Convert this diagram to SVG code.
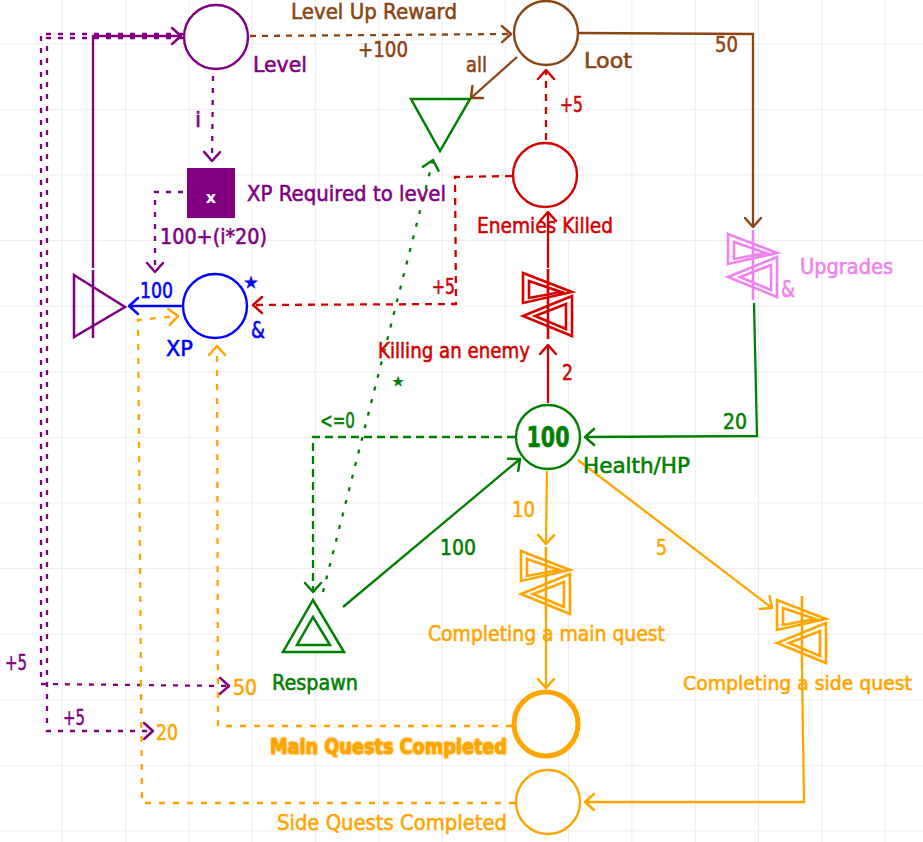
<svg xmlns="http://www.w3.org/2000/svg" width="923" height="842" viewBox="0 0 923 842">
<style>
.t{font-family:"DejaVu Sans","Liberation Sans",sans-serif;font-size:22px;stroke-width:0.6;}
.b{font-weight:bold;}
.ln{fill:none;stroke-width:2.3;}
.pu{stroke:#800080;} .br{stroke:#8b4513;} .rd{stroke:#d40000;} .gr{stroke:#008000;} .or{stroke:#ffa500;} .bl{stroke:#0000ff;}
.fpu{fill:#800080;stroke:#800080;} .fbr{fill:#8b4513;stroke:#8b4513;} .frd{fill:#d40000;stroke:#d40000;} .fgr{fill:#008000;stroke:#008000;} .for{fill:#ffa500;stroke:#ffa500;} .fbl{fill:#0000ff;stroke:#0000ff;} .fvi{fill:#ee82ee;stroke:#ee82ee;}
.dotP{stroke-dasharray:5 7;} .dashB{stroke-dasharray:6 6;} .dashR{stroke-dasharray:7 6;} .dashG{stroke-dasharray:8 5;} .dotG{stroke-dasharray:4 9;} .dotO{stroke-dasharray:6 8;}
.pool{fill:#fff;stroke-width:2.4;}
</style>
<defs>
<pattern id="grid" patternUnits="userSpaceOnUse" x="-1.6" y="-22.3" width="63.3" height="65.6">
<path d="M0,0 V65.6 M0,0 H63.3" fill="none" stroke="#ececec" stroke-width="2"/>
</pattern>
<filter id="glow" x="-10%" y="-40%" width="120%" height="180%"><feGaussianBlur stdDeviation="1.2"/></filter>
<marker id="aP" markerUnits="userSpaceOnUse" markerWidth="24" markerHeight="24" viewBox="-12 -12 24 24" refX="0" refY="0" orient="auto"><path d="M-9,-8 L0,0 L-9,8" fill="none" stroke="#800080" stroke-width="2.5" stroke-linecap="round" stroke-linejoin="round"/></marker>
<marker id="aB" markerUnits="userSpaceOnUse" markerWidth="24" markerHeight="24" viewBox="-12 -12 24 24" refX="0" refY="0" orient="auto"><path d="M-9,-8 L0,0 L-9,8" fill="none" stroke="#8b4513" stroke-width="2.5" stroke-linecap="round" stroke-linejoin="round"/></marker>
<marker id="aR" markerUnits="userSpaceOnUse" markerWidth="24" markerHeight="24" viewBox="-12 -12 24 24" refX="0" refY="0" orient="auto"><path d="M-9,-8 L0,0 L-9,8" fill="none" stroke="#d40000" stroke-width="2.5" stroke-linecap="round" stroke-linejoin="round"/></marker>
<marker id="aG" markerUnits="userSpaceOnUse" markerWidth="24" markerHeight="24" viewBox="-12 -12 24 24" refX="0" refY="0" orient="auto"><path d="M-9,-8 L0,0 L-9,8" fill="none" stroke="#008000" stroke-width="2.5" stroke-linecap="round" stroke-linejoin="round"/></marker>
<marker id="aO" markerUnits="userSpaceOnUse" markerWidth="24" markerHeight="24" viewBox="-12 -12 24 24" refX="0" refY="0" orient="auto"><path d="M-9,-8 L0,0 L-9,8" fill="none" stroke="#ffa500" stroke-width="2.5" stroke-linecap="round" stroke-linejoin="round"/></marker>
<marker id="aL" markerUnits="userSpaceOnUse" markerWidth="24" markerHeight="24" viewBox="-12 -12 24 24" refX="0" refY="0" orient="auto"><path d="M-9,-8 L0,0 L-9,8" fill="none" stroke="#0000ff" stroke-width="2.5" stroke-linecap="round" stroke-linejoin="round"/></marker>
<g id="cv" fill="none" stroke-width="2.6">
<path d="M-25,-31 L24,-12 L-25,-1 Z M-19,-23 L13,-12 L-19,-6 Z"/>
<path d="M24,-8 L-25,12 L24,32 Z M18,0 L-13,12 L18,25 Z"/>
<path d="M0,-35 V35"/>
</g>
</defs>
<rect width="923" height="842" fill="#fff"/>
<rect width="923" height="842" fill="url(#grid)"/>

<g id="connectors">
<path class="ln br dashB" d="M250,36 L511,34" marker-end="url(#aB)"/>
<path class="ln br" d="M579,33 L753,34 L753,227" marker-end="url(#aB)"/>
<path class="ln br" d="M517,57 L471,98" marker-end="url(#aB)"/>
<path class="ln pu" d="M93,268 L93,36 L181,36" marker-end="url(#aP)"/>
<path class="ln pu dotP" d="M183,34 L41,34 L41,684 L229,686" marker-end="url(#aP)"/>
<path class="ln pu dotP" d="M183,38 L47,38 L47,731 L153,731" marker-end="url(#aP)"/>
<path class="ln pu dotP" d="M213,76 L212,161" marker-end="url(#aP)"/>
<path class="ln pu dotP" d="M183,192 L155,192 L155,272" marker-end="url(#aP)"/>
<path class="ln bl" d="M183,306 L129,306" marker-end="url(#aL)"/>
<path class="ln rd dashR" d="M546,140 L546,70" marker-end="url(#aR)"/>
<path class="ln rd dashR" d="M512,176 L455,177 L456,304 L253,305" marker-end="url(#aR)"/>
<path class="ln rd" d="M548,268 L548,212" marker-end="url(#aR)"/>
<path class="ln rd" d="M548,403 L548,345" marker-end="url(#aR)"/>
<path class="ln gr" d="M754,303 L757,436 L585,437" marker-end="url(#aG)"/>
<path class="ln gr dashG" d="M515,437 L313,437 L313,592" marker-end="url(#aG)"/>
<path class="ln gr dotG" d="M323,592 L433,160" marker-end="url(#aG)"/>
<path class="ln gr" d="M343,607 L520,459" marker-end="url(#aG)"/>
<path class="ln or" d="M547,471 L546,544" marker-end="url(#aO)"/>
<path class="ln or" d="M546,616 L546,688" marker-end="url(#aO)"/>
<path class="ln or" d="M578,460 L772,608" marker-end="url(#aO)"/>
<path class="ln or" d="M802,666 L804,802 L585,802" marker-end="url(#aO)"/>
<path class="ln or dotO" d="M512,726 L218,726 L217,346" marker-end="url(#aO)"/>
<path class="ln or dotO" d="M515,803 L142,803 L138,320 L178,316" marker-end="url(#aO)"/>
</g>

<g id="connector-labels">
<text class="t fbr" x="291" y="19" textLength="166" lengthAdjust="spacingAndGlyphs">Level Up Reward</text>
<text class="t fbr" x="358" y="57" textLength="50" lengthAdjust="spacingAndGlyphs">+100</text>
<text class="t fbr" x="466" y="72" textLength="21" lengthAdjust="spacingAndGlyphs">all</text>
<text class="t fbr" x="715" y="52" textLength="23" lengthAdjust="spacingAndGlyphs">50</text>
<text class="t frd" x="560" y="112" textLength="23" lengthAdjust="spacingAndGlyphs">+5</text>
<text class="t frd" x="432" y="294" textLength="23" lengthAdjust="spacingAndGlyphs">+5</text>
<text class="t frd" x="562" y="380" textLength="11" lengthAdjust="spacingAndGlyphs">2</text>
<text class="t fpu" x="195" y="127">i</text>
<text class="t fpu" x="160" y="244" textLength="107" lengthAdjust="spacingAndGlyphs">100+(i*20)</text>
<text class="t fbl" x="140" y="298" textLength="33" lengthAdjust="spacingAndGlyphs">100</text>
<text class="t fgr" x="320" y="428" textLength="35" lengthAdjust="spacingAndGlyphs">&lt;=0</text>
<text class="t fgr" x="398" y="386" text-anchor="middle" style="font-size:13px">★</text>
<text class="t fgr" x="723" y="429" textLength="24" lengthAdjust="spacingAndGlyphs">20</text>
<text class="t fgr" x="440" y="555" textLength="36" lengthAdjust="spacingAndGlyphs">100</text>
<text class="t for" x="512" y="517" textLength="23" lengthAdjust="spacingAndGlyphs">10</text>
<text class="t for" x="656" y="555" textLength="11" lengthAdjust="spacingAndGlyphs">5</text>
<text class="t for" x="233" y="695" textLength="24" lengthAdjust="spacingAndGlyphs">50</text>
<text class="t for" x="156" y="740" textLength="22" lengthAdjust="spacingAndGlyphs">20</text>
<text class="t fpu" x="5" y="670" textLength="22" lengthAdjust="spacingAndGlyphs">+5</text>
<text class="t fpu" x="63" y="725" textLength="22" lengthAdjust="spacingAndGlyphs">+5</text>
</g>

<g id="level">
<circle class="pool pu" cx="216" cy="37" r="32"/>
<text class="t fpu" x="253" y="72" textLength="54" lengthAdjust="spacingAndGlyphs">Level</text>
</g>
<g id="loot">
<circle class="pool br" cx="546" cy="33" r="32"/>
<text class="t fbr" x="584" y="68" textLength="48" lengthAdjust="spacingAndGlyphs">Loot</text>
</g>
<g id="drain">
<polygon points="411,99 470,99 440,151" fill="#fff" stroke="#008000" stroke-width="2.5"/>
</g>
<g id="enemies-killed">
<circle class="pool rd" cx="545" cy="175" r="32"/>
<text class="t frd" x="477" y="233" textLength="136" lengthAdjust="spacingAndGlyphs">Enemies Killed</text>
</g>
<g id="xp-required">
<rect x="187" y="168" width="48" height="50" fill="#800080"/>
<text class="t b" x="211" y="203" fill="#fff" text-anchor="middle" style="font-size:16px">x</text>
<text class="t fpu" x="247" y="201" textLength="199" lengthAdjust="spacingAndGlyphs">XP Required to level</text>
</g>
<g id="level-converter">
<polygon points="74,275 125,307 74,337" fill="none" stroke="#800080" stroke-width="2.5"/>
<path d="M93,270 V338" stroke="#800080" stroke-width="2.5"/>
</g>
<g id="xp">
<circle class="pool bl" cx="215" cy="306" r="32"/>
<text class="t fbl" x="166" y="356" textLength="27" lengthAdjust="spacingAndGlyphs">XP</text>
<text class="t fbl" x="251" y="288" text-anchor="middle" style="font-size:16px">★</text>
<text class="t fbl" x="251" y="338" textLength="14" lengthAdjust="spacingAndGlyphs" style="font-size:23px">&amp;</text>
</g>
<g id="upgrades">
<use href="#cv" x="753" y="265" stroke="#ee82ee"/>
<text class="t fvi" x="800" y="274" textLength="93" lengthAdjust="spacingAndGlyphs">Upgrades</text>
<text class="t fvi" x="781" y="297" textLength="14" lengthAdjust="spacingAndGlyphs" style="font-size:23px">&amp;</text>
</g>
<g id="killing-an-enemy">
<use href="#cv" x="548" y="304" stroke="#d40000"/>
<text class="t frd" x="378" y="358" textLength="152" lengthAdjust="spacingAndGlyphs">Killing an enemy</text>
</g>
<g id="health">
<circle class="pool gr" cx="548" cy="437" r="32"/>
<text class="t b fgr" x="548" y="447" text-anchor="middle" textLength="43" lengthAdjust="spacingAndGlyphs" style="font-size:28px">100</text>
<text class="t fgr" x="583" y="473" textLength="107" lengthAdjust="spacingAndGlyphs">Health/HP</text>
</g>
<g id="respawn">
<polygon points="283,652 344,652 313,600" fill="#fff" stroke="#008000" stroke-width="2.5"/>
<polygon points="297,645 330,645 313,617" fill="none" stroke="#008000" stroke-width="2.5"/>
<text class="t fgr" x="272" y="690" textLength="86" lengthAdjust="spacingAndGlyphs">Respawn</text>
</g>
<g id="main-quest-converter">
<use href="#cv" x="546" y="582" stroke="#ffa500"/>
<text class="t for" x="428" y="641" textLength="237" lengthAdjust="spacingAndGlyphs">Completing a main quest</text>
</g>
<g id="side-quest-converter">
<use href="#cv" x="802" y="631" stroke="#ffa500"/>
<text class="t for" x="683" y="690" textLength="229" lengthAdjust="spacingAndGlyphs" style="font-size:19.5px">Completing a side quest</text>
</g>
<g id="main-quests-completed">
<circle cx="546" cy="724" r="32" fill="#fff" stroke="#ffa500" stroke-width="5"/>
<text class="t b" x="270" y="754" textLength="237" lengthAdjust="spacingAndGlyphs" fill="#f5a000" stroke="#f5a000" stroke-width="4" stroke-linejoin="round" filter="url(#glow)">Main Quests Completed</text>
<text class="t b" x="270" y="754" textLength="237" lengthAdjust="spacingAndGlyphs" fill="#ffa500" stroke="#ffa500" stroke-width="1.5" stroke-linejoin="round">Main Quests Completed</text>
</g>
<g id="side-quests-completed">
<circle class="pool or" cx="548" cy="802" r="32"/>
<text class="t for" x="277" y="830" textLength="230" lengthAdjust="spacingAndGlyphs">Side Quests Completed</text>
</g>
</svg>
